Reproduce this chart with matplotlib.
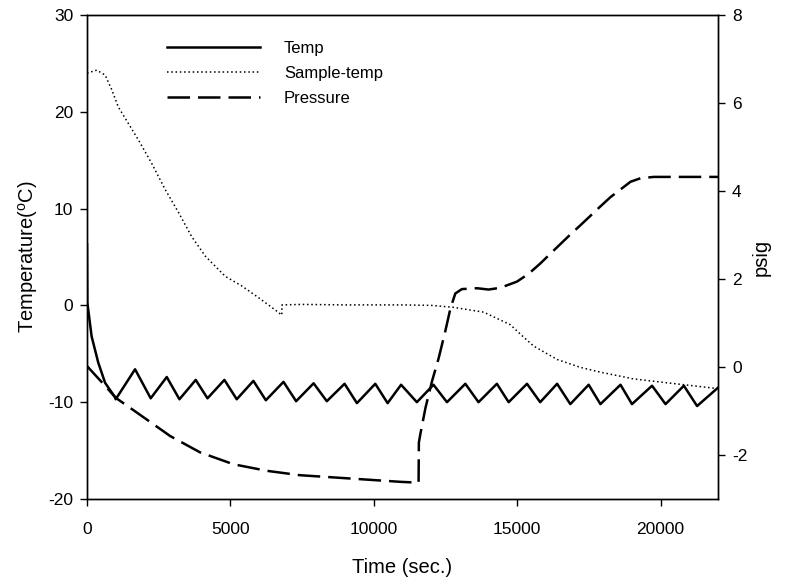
import matplotlib
matplotlib.use("Agg")
import matplotlib.pyplot as plt

plt.rcParams['font.family'] = ['Liberation Sans', 'DejaVu Sans']
plt.rcParams['axes.unicode_minus'] = False
plt.rcParams['mathtext.fontset'] = 'custom'
plt.rcParams['mathtext.rm'] = 'Liberation Sans'

# Temp (left axis, deg C)
temp_t = [0, 10, 160, 390, 630, 980, 1000,
          1675, 2220, 2780, 3222, 3790, 4200, 4790, 5220, 5800, 6235,
          6850, 7290, 7900, 8360, 8980, 9410, 10050, 10480, 10950, 11500,
          12080, 12550, 13190, 13650, 14290, 14700, 15340, 15800, 16390,
          16850, 17490, 17900, 18600, 19000, 19700, 20170, 20810, 21270,
          22000]
temp_v = [6.3, 0.3, -3.2, -5.9, -8.0, -9.5, -9.7,
          -6.6, -9.6, -7.4, -9.7, -7.7, -9.6, -7.7, -9.7, -7.8, -9.8,
          -7.9, -9.9, -8.05, -9.9, -8.1, -10.1, -8.1, -10.1, -8.2, -10.0,
          -8.2, -10.0, -8.1, -10.0, -8.1, -10.0, -8.1, -10.0, -8.1,
          -10.2, -8.2, -10.2, -8.2, -10.2, -8.3, -10.2, -8.3, -10.4,
          -8.5]

# Sample-temp (left axis, deg C)
sample_t = [0, 340, 630, 860, 1090, 1440, 1790, 2250, 2720, 3190, 3650,
            4120, 4820, 5400, 5980, 6440, 6790, 6800, 7500, 9000, 11000,
            12000, 12770, 13830, 14760, 15230, 15570, 16400, 17200, 17900,
            19060, 20230, 22000]
sample_v = [24.0, 24.3, 23.8, 22.3, 20.5, 18.8, 17.1, 14.7, 12.0, 9.6, 7.1,
            5.1, 3.0, 2.0, 0.8, -0.2, -1.0, 0.05, 0.1, 0.05, 0.05,
            0.0, -0.2, -0.7, -2.0, -3.3, -4.2, -5.6, -6.4, -6.9,
            -7.6, -8.0, -8.6]

# Pressure (right axis, psig)
press_t = [0, 690, 1000, 1790, 2900, 3940, 5100, 6270, 7430, 8600, 9760,
           10920, 11560, 11570, 11620, 11800, 12030, 12260, 12490, 12670,
           12840, 13070, 13600, 14000, 14410, 14990, 15400, 15800, 16100,
           16850, 17200, 17900, 18250, 18950, 19300, 19760, 20460, 22000]
press_v = [0.02, -0.47, -0.70, -1.06, -1.57, -1.94, -2.21, -2.36, -2.46,
           -2.51, -2.56, -2.61, -2.63, -1.72, -1.53, -0.93, -0.32, 0.2, 0.81,
           1.33, 1.67, 1.77, 1.79, 1.76, 1.80, 1.94, 2.12, 2.35, 2.54,
           3.01, 3.22, 3.65, 3.86, 4.21, 4.29, 4.32, 4.32, 4.32]

fig = plt.figure(figsize=(7.94, 5.88), dpi=100)
ax = fig.add_axes([0.1096, 0.1514, 0.7947, 0.8231])
ax2 = ax.twinx()

l1, = ax.plot(temp_t, temp_v, color='black', lw=1.8, label='Temp')
l2, = ax.plot(sample_t, sample_v, color='black', lw=1.1,
              dashes=(1, 1.8), label='Sample-temp')
l3, = ax2.plot(press_t, press_v, color='black', lw=1.8,
               dashes=(9, 3.2), label='Pressure')

ax.set_xlim(0, 22000)
ax.set_ylim(-20, 30)
ax2.set_ylim(-3, 8)
ax.set_xticks([0, 5000, 10000, 15000, 20000])
ax.set_yticks([-20, -10, 0, 10, 20, 30])
ax2.set_yticks([-2, 0, 2, 4, 6, 8])

for a in (ax, ax2):
    a.tick_params(direction='out', length=5, width=1, labelsize=12.5, pad=5)
    for s in a.spines.values():
        s.set_linewidth(1)
ax.tick_params(axis='x', pad=11.5)

ax.set_xlabel('Time (sec.)', fontsize=14.5, labelpad=15)
ax.set_ylabel(r'Temperature($^\mathrm{o}$C)', fontsize=14.5, labelpad=6)
ax2.set_ylabel('psig', fontsize=14.5, labelpad=3)

leg = ax2.legend(handles=[l1, l2, l3], loc='upper left',
                 bbox_to_anchor=(0.127, 0.947), frameon=False,
                 fontsize=12, handlelength=5.6, handletextpad=1.4,
                 labelspacing=0.62, borderpad=0, borderaxespad=0)

fig.savefig('out.png', dpi=100)
